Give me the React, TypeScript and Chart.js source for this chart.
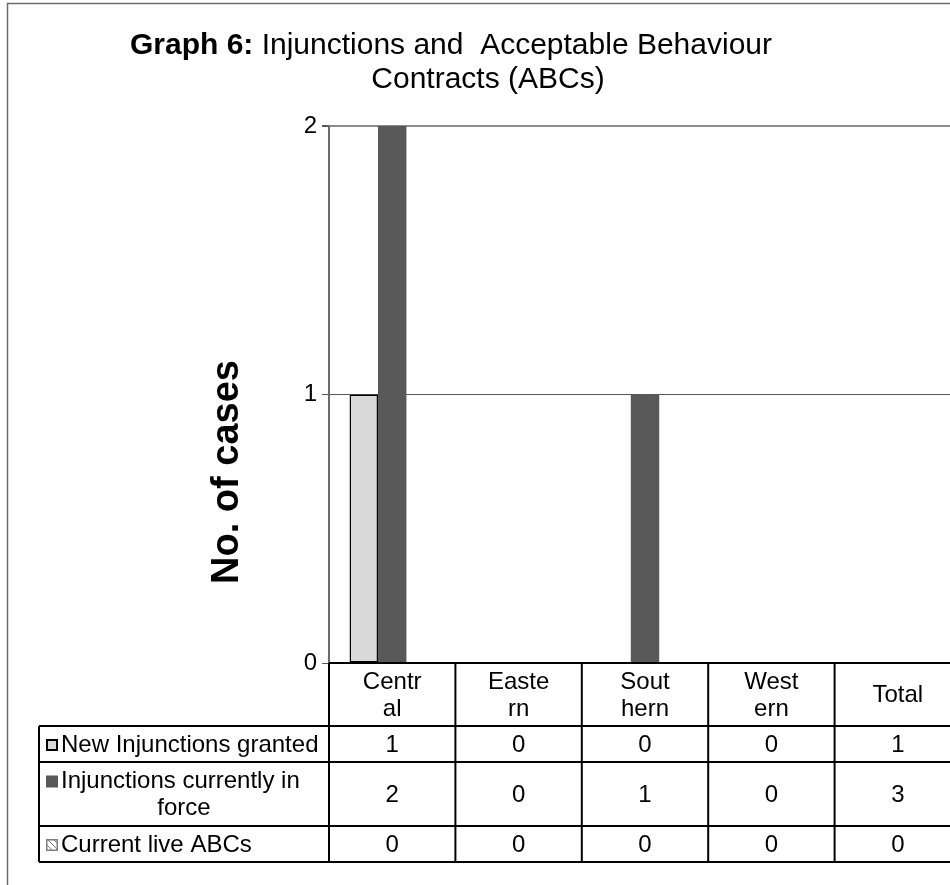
import React, { useEffect, useRef } from "react";
import { Chart, registerables } from "chart.js";

Chart.register(...registerables);

// ---- data ----
const categories = ["Central", "Eastern", "Southern", "Western", "Total"];
const categoryLines = [["Centr", "al"], ["Easte", "rn"], ["Sout", "hern"], ["West", "ern"], ["Total"]];
const seriesNames = ["New Injunctions granted", "Injunctions currently in force", "Current live ABCs"];
const seriesLines = [["New Injunctions granted"], ["Injunctions currently in", "force"], ["Current live ABCs"]];
const newInjunctions = [1, 0, 0, 0, 1];
const injunctionsInForce = [2, 0, 1, 0, 3];
const liveABCs = [0, 0, 0, 0, 0];
const yMin = 0;
const yMax = 2;
const yStep = 1;
const titleBold = "Graph 6:";
const titleRest = " Injunctions and  Acceptable Behaviour";
const titleLine2 = "Contracts (ABCs)";
const yTitle = "No. of cases";

const FONT = '"Liberation Sans", Arial, sans-serif';

// the Total column is listed in the table only, not plotted
const plotted = (vals: number[]) => vals.map((v, i) => (categories[i] === "Total" ? null : v));

function makeHatch(): CanvasPattern | string {
  const c = document.createElement("canvas");
  c.width = 6;
  c.height = 6;
  const g = c.getContext("2d");
  if (!g) return "#bfbfbf";
  g.fillStyle = "#ffffff";
  g.fillRect(0, 0, 6, 6);
  g.strokeStyle = "#7f7f7f";
  g.lineWidth = 1;
  g.beginPath();
  g.moveTo(0, 0);
  g.lineTo(6, 6);
  g.stroke();
  return g.createPattern(c, "repeat") || "#bfbfbf";
}

export default function App() {
  const ref = useRef<HTMLCanvasElement>(null);

  useEffect(() => {
    const canvas = ref.current;
    if (!canvas) return;
    const hatch = makeHatch();
    const series = [newInjunctions, injunctionsInForce, liveABCs];

    const drawKey = (ctx: CanvasRenderingContext2D, idx: number, x: number, y: number) => {
      const s = 12;
      ctx.save();
      if (idx === 0) {
        ctx.fillStyle = "#d9d9d9";
        ctx.fillRect(x, y - s / 2, s, s);
        ctx.strokeStyle = "#000";
        ctx.lineWidth = 2;
        ctx.strokeRect(x + 1, y - s / 2 + 1, s - 2, s - 2);
      } else if (idx === 1) {
        ctx.fillStyle = "#595959";
        ctx.fillRect(x, y - s / 2, s, s);
      } else {
        ctx.fillStyle = hatch as any;
        ctx.fillRect(x, y - s / 2, s, s);
        ctx.strokeStyle = "#7f7f7f";
        ctx.lineWidth = 1.5;
        ctx.strokeRect(x + 0.75, y - s / 2 + 0.75, s - 1.5, s - 1.5);
      }
      ctx.restore();
    };

    const decor = {
      id: "decor",
      beforeDraw(chart: any) {
        const ctx = chart.ctx as CanvasRenderingContext2D;
        ctx.save();
        ctx.fillStyle = "#fff";
        ctx.fillRect(0, 0, chart.width, chart.height);
        ctx.restore();
      },
      afterDraw(chart: any) {
        const ctx = chart.ctx as CanvasRenderingContext2D;
        const area = chart.chartArea;
        const xs = chart.scales.x;
        const n = categories.length;
        const colW = (area.right - area.left) / n;
        ctx.save();

        // outer frame
        ctx.strokeStyle = "#6b6b6b";
        ctx.lineWidth = 1.5;
        ctx.beginPath();
        ctx.moveTo(7.5, chart.height + 5);
        ctx.lineTo(7.5, 3.5);
        ctx.lineTo(chart.width + 5, 3.5);
        ctx.stroke();

        // title
        ctx.fillStyle = "#000";
        ctx.textBaseline = "middle";
        const tf = 30;
        ctx.font = `bold ${tf}px ${FONT}`;
        const wb = ctx.measureText(titleBold).width;
        ctx.font = `${tf}px ${FONT}`;
        const wr = ctx.measureText(titleRest).width;
        const x0 = 451 - (wb + wr) / 2;
        ctx.textAlign = "left";
        ctx.font = `bold ${tf}px ${FONT}`;
        ctx.fillText(titleBold, x0, 46);
        ctx.font = `${tf}px ${FONT}`;
        ctx.fillText(titleRest, x0 + wb, 46);
        ctx.textAlign = "center";
        ctx.fillText(titleLine2, 488, 80);

        // y axis title
        ctx.save();
        ctx.translate(228, 472);
        ctx.rotate(-Math.PI / 2);
        ctx.font = `bold 38px ${FONT}`;
        ctx.textAlign = "center";
        ctx.fillText(yTitle, 0, 0);
        ctx.restore();

        // data table
        const top = area.bottom;
        const rows = [top, 726, 762, 826, 862];
        const legendLeft = 39;
        const right = chart.width + 5;
        ctx.strokeStyle = "#000";
        ctx.lineWidth = 2;
        ctx.beginPath();
        ctx.moveTo(area.left, rows[0]);
        ctx.lineTo(right, rows[0]);
        for (let r = 1; r < rows.length; r++) {
          ctx.moveTo(legendLeft, rows[r]);
          ctx.lineTo(right, rows[r]);
        }
        for (let i = 0; i <= n; i++) {
          const x = area.left + i * colW;
          ctx.moveTo(x, rows[0]);
          ctx.lineTo(x, rows[rows.length - 1]);
        }
        ctx.moveTo(legendLeft, rows[1]);
        ctx.lineTo(legendLeft, rows[rows.length - 1]);
        ctx.stroke();

        ctx.font = `24px ${FONT}`;
        ctx.textBaseline = "middle";
        const lineH = 27;
        // header labels
        ctx.fillStyle = "#000";
        ctx.textAlign = "center";
        categoryLines.forEach((lines, i) => {
          const cx = xs.getPixelForValue(i);
          const cy = (rows[0] + rows[1]) / 2 + 1;
          lines.forEach((t, k) => {
            ctx.fillText(t, cx, cy + (k - (lines.length - 1) / 2) * lineH);
          });
        });
        // rows
        series.forEach((vals, r) => {
          const cy = (rows[r + 1] + rows[r + 2]) / 2 + 1;
          ctx.fillStyle = "#000";
          ctx.textAlign = "center";
          vals.forEach((v, i) => {
            ctx.fillText(String(v), xs.getPixelForValue(i), cy);
          });
          const lines = seriesLines[r];
          lines.forEach((t, k) => {
            const ly = cy + (k - (lines.length - 1) / 2) * lineH;
            if (k === 0) {
              drawKey(ctx, r, 46, ly);
              ctx.fillStyle = "#000";
              ctx.textAlign = "left";
              ctx.fillText(t, 61, ly);
            } else {
              ctx.fillStyle = "#000";
              ctx.textAlign = "center";
              ctx.fillText(t, (legendLeft + area.left) / 2, ly);
            }
          });
        });
        ctx.restore();
      },
    };

    const chart = new Chart(canvas, {
      type: "bar",
      data: {
        labels: categories,
        datasets: [
          {
            label: seriesNames[0],
            data: plotted(newInjunctions),
            backgroundColor: "#d9d9d9",
            borderColor: "#000000",
            borderWidth: 1.5,
            borderSkipped: false,
          },
          {
            label: seriesNames[1],
            data: plotted(injunctionsInForce),
            backgroundColor: "#595959",
            borderWidth: 0,
          },
          {
            label: seriesNames[2],
            data: plotted(liveABCs),
            backgroundColor: hatch as any,
            borderColor: "#7f7f7f",
            borderWidth: 0,
          },
        ],
      },
      options: {
        responsive: false,
        animation: false,
        events: [],
        layout: { padding: { left: 0, top: 126, right: 14, bottom: 885 - 663 } },
        datasets: { bar: { categoryPercentage: 0.675, barPercentage: 1 } },
        plugins: { legend: { display: false }, tooltip: { enabled: false }, title: { display: false } },
        scales: {
          x: { display: false },
          y: {
            min: yMin,
            max: yMax,
            afterFit: (scale: any) => {
              scale.width = 329;
            },
            ticks: {
              stepSize: yStep,
              color: "#000",
              padding: 5,
              font: { family: FONT, size: 24 },
            },
            grid: {
              color: (c: any) => (c.tick && c.tick.value === yMax ? "#8c8c8c" : "#595959"),
              lineWidth: (c: any) => (c.tick && c.tick.value === yMax ? 2 : 1),
              tickLength: 7,
              tickColor: "#595959",
            },
            border: { display: true, color: "#6b6b6b", width: 2 },
          },
        },
      },
      plugins: [decor],
    });

    return () => chart.destroy();
  }, []);

  return (
    <div
      style={{
        position: "fixed",
        left: 0,
        top: 0,
        width: 950,
        height: 885,
        overflow: "hidden",
        background: "#fff",
      }}
    >
      <canvas ref={ref} width={975} height={885} style={{ display: "block", width: 975, height: 885 }} />
    </div>
  );
}
